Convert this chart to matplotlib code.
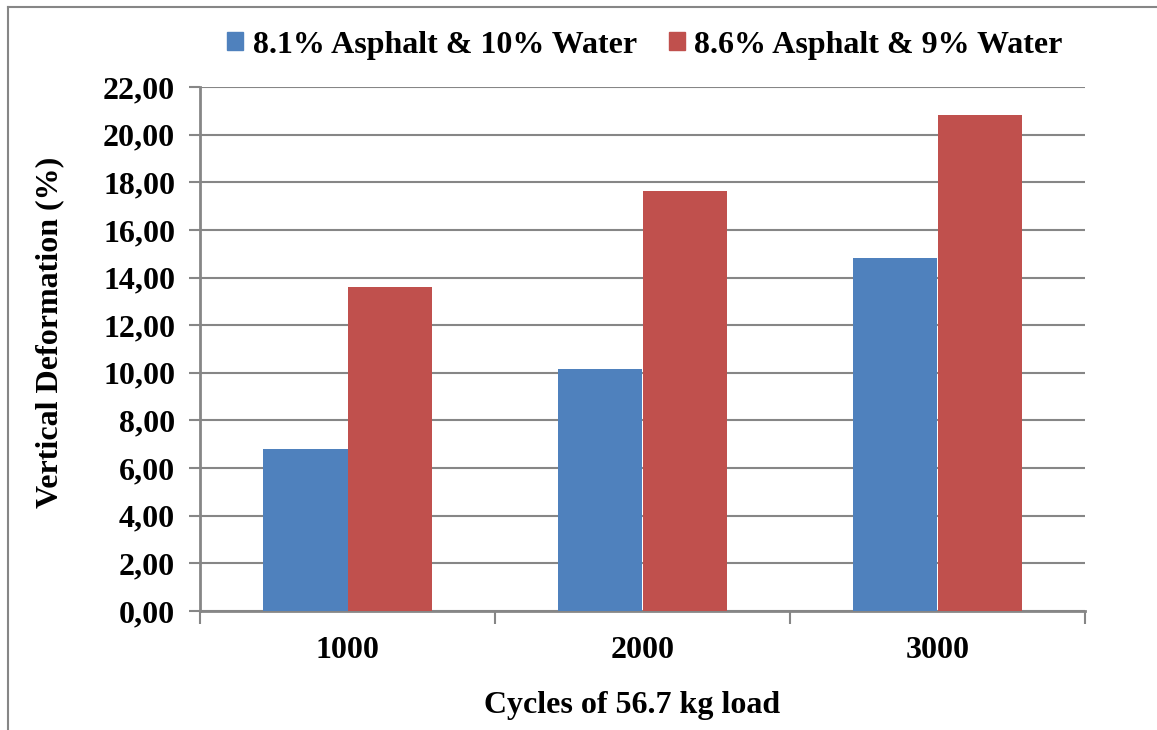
import matplotlib
matplotlib.use("Agg")
import matplotlib.pyplot as plt
import numpy as np
from matplotlib.lines import Line2D
from matplotlib.patches import Patch
from matplotlib.ticker import FuncFormatter

cycles = ["1000", "2000", "3000"]
series_names = ["8.1% Asphalt & 10% Water", "8.6% Asphalt & 9% Water"]
deform_81 = [6.80, 10.16, 14.82]
deform_86 = [13.60, 17.65, 20.82]

BLUE = "#4F81BD"
RED = "#C0504D"
GRID = "#868686"

plt.rcParams.update({
    "font.family": ["Liberation Serif", "DejaVu Serif"],
    "font.weight": "bold",
    "font.size": 23,
})

fig = plt.figure(figsize=(11.57, 7.30), dpi=100)
ax = fig.add_axes([200 / 1157, 1 - 611 / 730, 885 / 1157, 524 / 730])

x = np.arange(len(cycles))
w = 0.285
ax.bar(x - w / 2, deform_81, width=w, color=BLUE, zorder=3)
ax.bar(x + w / 2, deform_86, width=w, color=RED, zorder=3)

ax.set_xlim(-0.5, len(cycles) - 0.5)
ax.set_ylim(0, 22)
ax.set_yticks(np.arange(0, 22.1, 2))
ax.yaxis.set_major_formatter(FuncFormatter(lambda v, _: f"{v:.2f}".replace(".", ",")))
ax.yaxis.grid(True, color=GRID, linewidth=1.5, zorder=0)

ax.set_xticks(x)
ax.set_xticklabels(cycles)
ax.set_xticks(np.arange(-0.5, len(cycles)), minor=True)
ax.tick_params(axis="x", which="major", length=0, pad=18)
ax.tick_params(axis="x", which="minor", length=9, width=1.5, color=GRID, direction="out")
ax.tick_params(axis="y", length=8, width=1.5, color=GRID, pad=10)

for s in ("top", "right"):
    ax.spines[s].set_visible(False)
for s in ("left", "bottom"):
    ax.spines[s].set_color(GRID)
    ax.spines[s].set_linewidth(2)

ax.set_xlabel("Cycles of 56.7 kg load", fontweight="bold")
ax.set_ylabel("Vertical Deformation (%)", fontweight="bold")
ax.xaxis.set_label_coords(0.488, -0.153)
ax.yaxis.set_label_coords(-0.153, 0.531)

handles = [Patch(color=BLUE), Patch(color=RED)]
fig.legend(handles, series_names, loc="center", bbox_to_anchor=(645 / 1157, 1 - 45 / 730),
           ncol=2, frameon=False, handlelength=0.5, handleheight=0.5,
           handletextpad=0.3, columnspacing=1.0)

# outer chart frame (cropped on right and bottom)
fig.add_artist(Line2D([7.5 / 1157, 7.5 / 1157], [0, 1 - 7 / 730], color=GRID, lw=1.5))
fig.add_artist(Line2D([7.5 / 1157, 1], [1 - 7 / 730, 1 - 7 / 730], color=GRID, lw=1.5))

fig.savefig("out.png", dpi=100)
